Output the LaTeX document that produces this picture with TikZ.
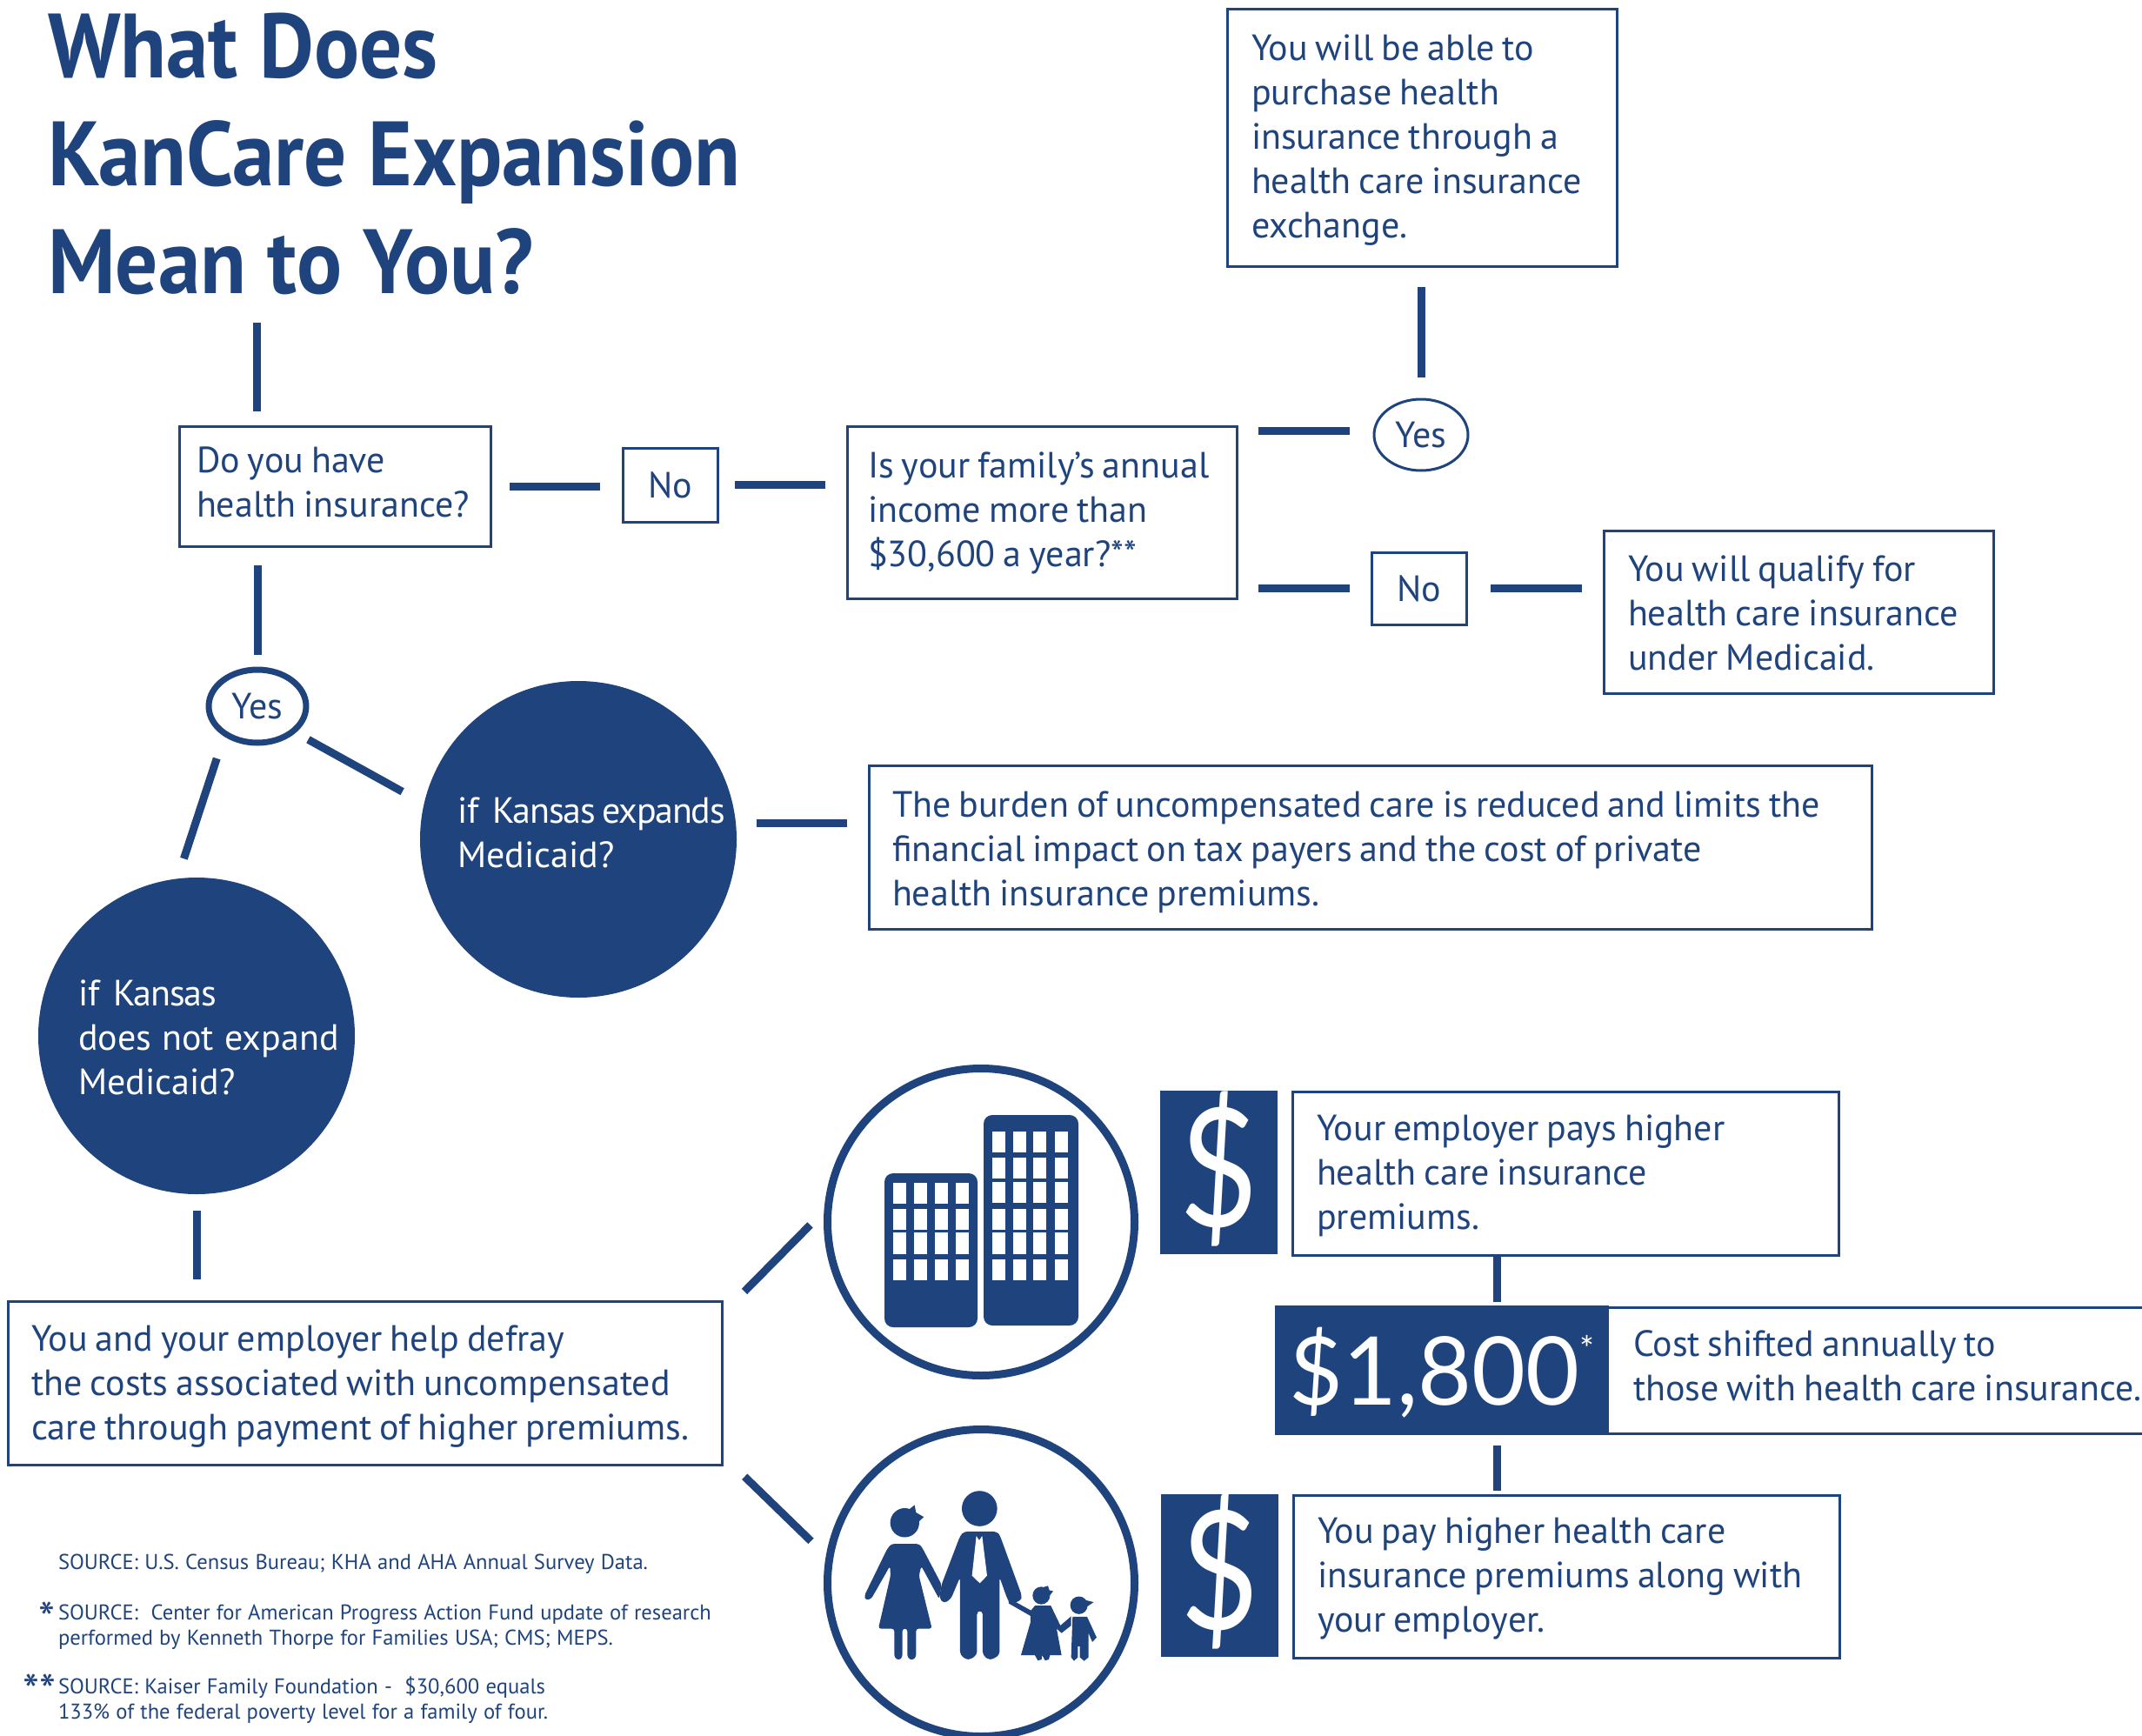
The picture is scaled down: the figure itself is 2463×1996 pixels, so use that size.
\documentclass[tikz,border=0pt]{standalone}
\usepackage{fontspec}
\setmainfont{PT Sans}[WordSpace=0.8]
\newfontfamily\titlefont{PT Sans}[FakeStretch=0.925,BoldFont={PT Sans Bold}]
\newfontfamily\notefont{PT Sans}[WordSpace=0.9]
\newfontfamily\widefont{PT Sans}[WordSpace=1.1]
\newfontfamily\numfont{Lato}
\usetikzlibrary{calc,shapes.geometric}
\definecolor{kblue}{HTML}{1F437C}
\newcommand{\fs}[2]{\fontsize{#1pt}{#2pt}\selectfont}
\newcommand{\tight}[1]{{\addfontfeature{LetterSpace=-3}#1}}
\tikzset{
  x=1pt,y=-1pt,
  tb/.style={draw=kblue,line width=3pt,outer sep=0pt,inner ysep=0pt,inner xsep=0pt,align=left,text=kblue,font=\fs{42}{51}},
  bare/.style={outer sep=0pt,inner sep=0pt,align=left,text=kblue,font=\fs{42}{51}},
  link/.style={draw=kblue,line width=9pt},
  disc/.style={circle,fill=kblue,minimum size=364pt,inner sep=0pt,outer sep=0pt},
  ring/.style={circle,draw=kblue,line width=9pt,minimum size=353pt,inner sep=0pt,outer sep=4.5pt},
  bluebox/.style={fill=kblue,inner sep=0pt,outer sep=0pt,text=white},
  note/.style={outer sep=0pt,inner sep=0pt,align=left,text=kblue,font=\notefont\fs{24.6}{29},anchor=north west},
}
% [text drop x2]{name}{x0}{y0}{x1}{y1}{pad}{lines}
\newcommand{\tbox}[8][0]{%
  \pgfmathsetmacro\bw{#5-#3}\pgfmathsetmacro\bh{#6-#4}%
  \pgfmathsetmacro\tw{\bw-2*#7}\pgfmathsetmacro\cx{(#3+#5)/2}\pgfmathsetmacro\cy{(#4+#6)/2}%
  \node[tb,minimum width=\bw pt,minimum height=\bh pt] (#2) at (\cx,\cy) {\vbox{\vskip #1pt\hbox{\makebox[\tw pt][l]{\begin{tabular}{@{}l@{}}#8\end{tabular}}}}};}
\newcommand{\sq}[6]{%
  \pgfmathsetmacro\bw{#4-#2}\pgfmathsetmacro\bh{#5-#3}%
  \pgfmathsetmacro\cx{(#2+#4)/2}\pgfmathsetmacro\cy{(#3+#5)/2}%
  \node[bluebox,minimum width=\bw pt,minimum height=\bh pt] (#1) at (\cx,\cy) {#6};}
\begin{document}
\begin{tikzpicture}
\useasboundingbox (0,0) rectangle (2463,1996);
% title
\node[anchor=north west,inner sep=0pt,outer sep=0pt,align=left,text=kblue,font=\titlefont\fs{105}{124}\bfseries] (title) at (55,15) {What Does\\KanCare Expansion\\Mean to You?};
% boxes
\tbox[6]{exch}{1411}{11}{1859}{306}{28}{You will be able to\\purchase health\\insurance through a\\health care insurance\\exchange.}
\node[ellipse,draw=kblue,line width=3pt,minimum width=108pt,minimum height=82pt,inner sep=0pt,outer sep=0pt,text=kblue,font=\fs{42}{51}] (yesA) at (1634,500) {Yes};
\node[tb,minimum width=109pt,minimum height=83pt] (noB) at (1631.5,676.5) {No};
\tbox[12]{medicaid}{1844}{610}{2292}{797}{28}{You will qualify for\\health care insurance\\under Medicaid.}
\tbox[3]{income}{974}{490}{1422}{688}{24}{Is your family’s annual\\income more than\\\$30,600 a year?**}
\node[tb,minimum width=109pt,minimum height=85pt] (noA) at (770.5,557.5) {No};
\tbox{have}{206}{490}{564}{628}{20}{Do you have\\health insurance?}
\node[ellipse,draw=kblue,line width=7pt,minimum width=112pt,minimum height=84pt,inner sep=0pt,outer sep=0pt,text=kblue,font=\fs{42}{51}] (yesB) at (296,812) {Yes};
\node[disc] (cExp) at (665,965) {};
\node[bare,text=white,anchor=west] (cExpT) at (526,957) {if\ \,\tight{Kansas expands}\\Medicaid?};
\node[disc] (cNot) at (226,1191) {};
\node[bare,text=white,anchor=west] (cNotT) at (90,1193) {if\ \,\tight{Kansas}\\{\widefont does not expand}\\Medicaid?};
\tbox[12]{burden}{999}{880}{2152}{1068}{27}{The burden of uncompensated care is reduced and limits the\\financial impact on tax payers and the cost of private\\health insurance premiums.}
\tbox[8]{defray}{9}{1496}{830}{1684}{27}{You and your employer help defray\\the costs associated with uncompensated\\care through payment of higher premiums.}
\node[ring] (rA) at (1128,1405) {};
\node[ring] (rB) at (1128,1820) {};
\sq{dA}{1334}{1254}{1469}{1442}{\vbox{\hbox{\numfont\fs{190}{190}\scalebox{0.82}[1]{\$}}\vskip 9pt}}
\sq{dB}{1335}{1718}{1470}{1905}{\vbox{\hbox{\numfont\fs{190}{190}\scalebox{0.82}[1]{\$}}\vskip 9pt}}
\tbox[6]{empl}{1486}{1255}{2114}{1443}{28}{Your employer pays higher\\health care insurance\\premiums.}
\tbox[6]{pay}{1487}{1719}{2115}{1906}{28}{You pay higher health care\\insurance premiums along with\\your employer.}
\sq{big}{1466}{1501}{1850}{1650}{\vbox{\vskip 6pt\hbox{\numfont\fs{109}{109}\scalebox{0.98}[1]{\$1,800}\raisebox{50pt}{\fs{40}{40}*}}}}
\node[bare,minimum height=145pt,minimum width=584pt] (shift) at (2170,1575.5) {\vbox{\hbox{\makebox[584pt][l]{\begin{tabular}{@{}l@{}}Cost shifted annually to\\those with health care insurance.\end{tabular}}}\vskip 1pt}};
\draw[draw=kblue,line width=3pt] (big.east |- shift.north) -- (2463,1503) (big.east |- shift.south) -- (2463,1648);
% connectors
\coordinate (titleFoot) at (295,371);
\coordinate (yesRow) at (1447,495);
\coordinate (expRow) at (665,946);
\coordinate (midX) at (1721,0);
\draw[link,shorten >=17pt] (titleFoot) -- (titleFoot |- have.north);
\draw[link,shorten <=22pt,shorten >=17pt] (have.south -| yesB) -- (yesB.north);
\draw[link,shorten <=22pt,shorten >=26pt] (have.east) -- (have.east -| noA.west);
\draw[link,shorten <=20pt,shorten >=25pt] (noA.east) -- (noA.east -| income.west);
\draw[link,shorten <=25pt,shorten >=28pt] (yesRow -| income.east) -- (yesRow -| yesA.west);
\draw[link,shorten <=25pt,shorten >=25pt] (income.east |- noB) -- (noB.west);
\draw[link,shorten <=28pt,shorten >=25pt] (noB.east) -- (noB.east -| medicaid.west);
\draw[link,shorten <=24pt,shorten >=25pt] (exch.south -| yesA) -- (yesA.north);
\draw[link,shorten <=30.2pt,shorten >=24.3pt] (yesB.220) -- (cNot.97.6);
\draw[link,shorten <=20pt,shorten >=28.6pt] (yesB.-35.6) -- (cExp.167.3);
\draw[link,shorten <=23pt,shorten >=25pt] (expRow -| cExp.east) -- (expRow -| burden.west);
\draw[link,shorten <=19pt,shorten >=25pt] (cNot.south) -- (cNot.south |- defray.north);
\coordinate (defrayUp) at (845,1496);
\coordinate (defrayDown) at (842,1684);
\draw[link,shorten <=15.6pt,shorten >=22.6pt] (defrayUp) -- (rA.176.2);
\draw[link,shorten <=19.8pt,shorten >=24pt] (defrayDown) -- (rB.170.7);
\draw[link,shorten <=2pt,shorten >=4pt] (midX |- empl.south) -- (midX |- big.north);
\draw[link,shorten <=12pt,shorten >=5pt] (midX |- big.south) -- (midX |- pay.north);
% buildings
\fill[kblue,rounded corners=10pt] (1017,1349) rectangle (1124,1526);
\fill[kblue,rounded corners=10pt] (1131,1282) rectangle (1240,1524);
\foreach \wx in {1027,1051,1075,1099}
  \foreach \wy/\wz in {1360/1384,1390/1414,1417/1442,1448/1472}
    \fill[white] (\wx,\wy) rectangle (\wx+15,\wz);
\foreach \wx in {1141,1165,1188,1213}
  \foreach \wy/\wz in {1301/1325,1331/1355,1359/1383,1390/1414,1417/1442,1448/1472}
    \fill[white] (\wx,\wy) rectangle (\wx+15,\wz);
% family
\begin{scope}[shift={(900,1200)},xscale=0.3333,yscale=0.5076,kblue,line join=round]
 \fill (679,1053) ellipse [x radius=61,y radius=40];
 \fill[rounded corners=4pt] (625,1105)--(740,1105)--(750,1115)--(825,1250)--(822,1262)--(785,1268)--(775,1258)--(748,1208)--(748,1385)--(715,1397)--(690,1385)--(690,1285)--(670,1285)--(670,1385)--(640,1397)--(612,1385)--(612,1208)--(580,1258)--(555,1268)--(540,1255)--(548,1225)--(612,1115)--cycle;
 \fill[white] (668,1115)--(653,1205)--(680,1222)--(705,1205)--(688,1115)--(678,1125)--cycle;
 \fill (421,1085) ellipse [x radius=50,y radius=33];
 \fill (430,1058)--(455,1045)--(460,1062)--(487,1072)--(465,1085)--cycle;
 \fill[rounded corners=3pt] (375,1133)--(470,1133)--(480,1140)--(548,1225)--(540,1258)--(478,1183)--(470,1205)--(515,1325)--(460,1325)--(460,1390)--(445,1397)--(430,1390)--(430,1325)--(413,1325)--(413,1390)--(400,1397)--(385,1390)--(385,1325)--(330,1325)--(372,1205)--(370,1183)--(305,1258)--(285,1260)--(282,1250)--(360,1145)--cycle;
 \fill (892,1250) ellipse [x radius=30,y radius=20];
 \fill (895,1232)--(915,1228)--(920,1238)--(933,1240)--(915,1255)--cycle;
 \fill (780,1256)--(860,1285)--(860,1298)--(780,1268)--cycle;
 \fill (870,1273)--(925,1273)--(958,1318)--(995,1297)--(995,1318)--(962,1335)--(945,1325)--(962,1385)--(922,1385)--(918,1395)--(905,1397)--(895,1385)--(893,1395)--(880,1397)--(870,1385)--(822,1385)--(855,1310)--(855,1285)--cycle;
 \fill (1022,1272) ellipse [x radius=30,y radius=20];
 \fill (1030,1258)--(1073,1265)--(1050,1275)--cycle;
 \fill (1000,1298)--(1050,1298)--(1083,1345)--(1068,1355)--(1055,1335)--(1055,1390)--(1040,1398)--(1025,1390)--(1025,1365)--(1018,1365)--(1018,1390)--(1005,1398)--(995,1390)--cycle;
\end{scope}
% notes
\node[note] (n1) at (67,1787) {SOURCE: U.S. Census Bureau; KHA and AHA Annual Survey Data.};
\node[note] (n2) at (67,1845) {SOURCE:\ \ Center for American Progress Action Fund update of research\\performed by Kenneth Thorpe for Families USA; CMS; MEPS.};
\node[note] (n3) at (67,1928) {SOURCE: Kaiser Family Foundation -\ \ \$30,600 equals\\133\% of the federal poverty level for a family of four.};
\node[bare,font=\fs{54}{54}] (s1) at (54,1861) {*};
\node[bare,font=\fs{54}{54}] (s2) at (45,1944) {**};
\end{tikzpicture}
\end{document}
